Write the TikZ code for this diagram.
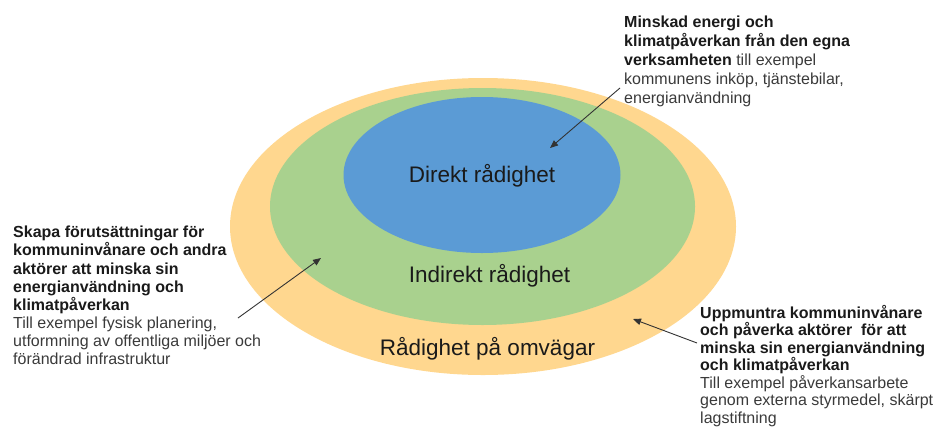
\documentclass[tikz,border=0pt]{standalone}
\usepackage{fontspec}
\setmainfont{Liberation Sans}
\usetikzlibrary{arrows.meta}
\definecolor{outerc}{HTML}{FFD78F}
\definecolor{midc}{HTML}{A9D18E}
\definecolor{innerc}{HTML}{5B9BD5}
\definecolor{txtc}{HTML}{1A1A1A}
\definecolor{subc}{HTML}{3A3A3A}
\definecolor{arrc}{HTML}{333333}
\begin{document}
\begin{tikzpicture}[x=1pt,y=-1pt,
  ringlabel/.style={font=\fontsize{22.5}{26}\selectfont, text=txtc, inner sep=0pt},
  note/.style={anchor=north west, align=left, inner sep=0pt, text=subc},
  pointer/.style={draw=arrc, line width=0.9pt, -{Triangle[length=8pt,width=6.5pt]}}
]
\useasboundingbox (0,0) rectangle (941,426);
% ellipses
\fill[outerc] (483,226.5) ellipse [x radius=253, y radius=148.5];
\fill[midc] (482.5,206.5) ellipse [x radius=212.5, y radius=118.5];
\fill[innerc] (482,175) ellipse [x radius=138.5, y radius=78];
% ring labels
\node[ringlabel] (direkt) at (482,176) {Direkt rådighet};
\node[ringlabel] (indirekt) at (489.5,276) {Indirekt rådighet};
\node[ringlabel] (omvag) at (487.5,349) {Rådighet på omvägar};
% annotations
\node[note, font=\fontsize{16}{19}\selectfont] (top) at (624,16)
 {\textbf{\textcolor{txtc}{Minskad energi och}}\\
  \textbf{\textcolor{txtc}{klimatpåverkan från den egna}}\\
  \textbf{\textcolor{txtc}{verksamheten}} till exempel\\
  kommunens inköp, tjänstebilar,\\
  energianvändning};
\node[note, font=\fontsize{16}{18.1}\selectfont] (left) at (13,226)
 {\textbf{\textcolor{txtc}{Skapa förutsättningar för}}\\
  \textbf{\textcolor{txtc}{kommuninvånare och andra}}\\
  \textbf{\textcolor{txtc}{aktörer att minska sin}}\\
  \textbf{\textcolor{txtc}{energianvändning och}}\\
  \textbf{\textcolor{txtc}{klimatpåverkan}}\\
  Till exempel fysisk planering,\\
  utformning av offentliga miljöer och\\
  förändrad infrastruktur};
\node[note, font=\fontsize{16}{17.5}\selectfont] (right) at (700,305)
 {\textbf{\textcolor{txtc}{Uppmuntra kommuninvånare}}\\
  \textbf{\textcolor{txtc}{och påverka aktörer\ \ för att}}\\
  \textbf{\textcolor{txtc}{minska sin energianvändning}}\\
  \textbf{\textcolor{txtc}{och klimatpåverkan}}\\
  Till exempel påverkansarbete\\
  genom externa styrmedel, skärpt\\
  lagstiftning};
% arrow end points
\coordinate (topS) at (620,88);
\coordinate (topE) at (550,148);
\coordinate (leftS) at (238,318);
\coordinate (leftE) at (321,258);
\coordinate (rightS) at (697,343);
\coordinate (rightE) at (633,319);
\draw[pointer] (topS) -- (topE);
\draw[pointer] (leftS) -- (leftE);
\draw[pointer] (rightS) -- (rightE);
\end{tikzpicture}
\end{document}
